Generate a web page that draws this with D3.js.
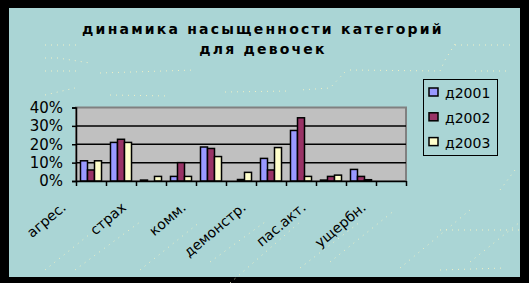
<!doctype html>
<html>
<head>
<meta charset="utf-8">
<script src="https://cdn.jsdelivr.net/npm/d3@7/dist/d3.min.js"></script>
<style>
  body { margin: 0; background: #000; }
  text { font-family: "DejaVu Sans", sans-serif; fill: #000; }
</style>
</head>
<body>
<svg id="chart" width="529" height="283"></svg>
<script>
// categories (only every other one is labelled on the axis)
var categories = ["агрес.", "", "страх", "", "комм.", "", "демонстр.", "", "пас.акт.", "", "ущербн."];
var seriesNames = ["д2001", "д2002", "д2003"];
var d2001 = [0.11, 0.21, 0.005, 0.025, 0.185, 0, 0.123, 0.275, 0.005, 0.063, 0];
var d2002 = [0.06, 0.227, 0, 0.10, 0.177, 0.008, 0.06, 0.344, 0.025, 0.025, 0];
var d2003 = [0.11, 0.21, 0.025, 0.025, 0.133, 0.047, 0.182, 0.025, 0.032, 0.007, 0];
var yTicks = [0, 0.1, 0.2, 0.3, 0.4];
var colors = ["#9999ff", "#993366", "#ffffcc"];

var svg = d3.select("#chart");

// black frame + teal background
svg.append("rect").attr("width", 529).attr("height", 283).attr("fill", "#000");
svg.append("rect").attr("x", 9).attr("y", 8).attr("width", 511).attr("height", 269).attr("fill", "#aad5d5");

// faint dotted texture
var dots = [
  [[45, 45], [80, 45]], [[455, 45], [515, 45]], [[45, 58], [58, 58], [90, 63]],
  [[45, 71], [80, 71]], [[100, 73], [195, 70]], [[350, 70], [440, 71]], [[475, 71], [510, 71]],
  [[455, 44], [445, 60], [440, 71]], [[345, 72], [330, 88], [300, 90]],
  [[225, 92], [290, 91]], [[110, 95], [170, 96]], [[45, 95], [75, 88]],
  [[45, 270], [95, 230]], [[75, 270], [140, 222]], [[140, 270], [200, 222]],
  [[210, 262], [265, 222]], [[230, 283], [300, 222]], [[300, 268], [360, 222]],
  [[330, 262], [395, 210]], [[400, 268], [470, 210]], [[470, 262], [520, 222]],
  [[440, 230], [520, 230]], [[500, 190], [515, 170]], [[440, 270], [505, 268]]
];
svg.append("g").selectAll("path").data(dots).enter().append("path")
  .attr("d", d3.line())
  .attr("fill", "none")
  .attr("stroke", "#f2f2c8")
  .attr("stroke-width", 1)
  .attr("stroke-dasharray", "1,5");

// title
var title = svg.append("text")
  .attr("text-anchor", "middle")
  .attr("font-weight", "bold")
  .attr("font-size", "14px")
  .attr("letter-spacing", "2.2px");
title.append("tspan").attr("x", 263).attr("y", 34).text("динамика насыщенности категорий");
title.append("tspan").attr("x", 263).attr("y", 54).text("для девочек");

// scales
var plotL = 76, plotR = 406, plotT = 107.5, plotB = 181;
var x = d3.scaleBand().domain(d3.range(categories.length)).range([plotL, plotR]).padding(0);
var x1 = d3.scaleBand().domain(seriesNames).range([0, x.bandwidth()]).paddingInner(0).paddingOuter(0.64);
var y = d3.scaleLinear().domain([0, 0.4]).range([plotB, plotT]);
var xb = d3.scaleLinear().domain([0, categories.length]).range([plotL, plotR]);

// plot area
svg.append("rect")
  .attr("x", plotL).attr("y", plotT)
  .attr("width", plotR - plotL).attr("height", plotB - plotT)
  .attr("fill", "#c0c0c0")
  .attr("stroke", "#808080")
  .attr("stroke-width", 2);

svg.append("g").selectAll("line").data(yTicks.slice(1, -1)).enter().append("line")
  .attr("x1", plotL).attr("x2", plotR)
  .attr("y1", function(d) { return y(d); })
  .attr("y2", function(d) { return y(d); })
  .attr("stroke", "#000")
  .attr("stroke-width", 1.5);

// bars
var series = [d2001, d2002, d2003];
var g = svg.append("g");
series.forEach(function(vals, si) {
  g.selectAll(".s" + si)
    .data(vals.map(function(v, i) { return { i: i, v: v }; }).filter(function(d) { return d.v > 0; }))
    .enter().append("rect")
    .attr("class", "s" + si)
    .attr("x", function(d) { return x(d.i) + x1(seriesNames[si]); })
    .attr("y", function(d) { return y(d.v); })
    .attr("width", x1.bandwidth())
    .attr("height", function(d) { return y(0) - y(d.v); })
    .attr("fill", colors[si])
    .attr("stroke", "#000")
    .attr("stroke-width", 1.5);
});

// axes
var yAxis = svg.append("g")
  .attr("transform", "translate(" + plotL + ",0)")
  .call(d3.axisLeft(y).tickValues(yTicks).tickFormat(d3.format(".0%")).tickSize(4).tickPadding(9));
yAxis.selectAll("text").attr("font-size", "15px").attr("font-family", "DejaVu Sans").attr("fill", "#000");
yAxis.selectAll("line, path").attr("stroke", "#000").attr("stroke-width", 1.5);

var xAxis = svg.append("g")
  .attr("transform", "translate(0," + plotB + ")")
  .call(d3.axisBottom(xb).tickValues(d3.range(categories.length + 1)).tickFormat("").tickSize(5).tickSizeOuter(0));
xAxis.selectAll("line, path").attr("stroke", "#000").attr("stroke-width", 1.5);

svg.append("g").selectAll("text").data(categories).enter().append("text")
  .attr("text-anchor", "end")
  .attr("font-size", "14px")
  .attr("transform", function(d, i) {
    return "translate(" + (x(i) + x.bandwidth() / 2 - 24) + "," + (plotB + 28) + ") rotate(-40)";
  })
  .text(function(d) { return d; });

// legend
var legend = svg.append("g");
legend.append("rect")
  .attr("x", 423.5).attr("y", 79.5).attr("width", 74).attr("height", 76)
  .attr("fill", "none").attr("stroke", "#000").attr("stroke-width", 1);
var items = legend.selectAll(".item").data(seriesNames).enter().append("g")
  .attr("transform", function(d, i) { return "translate(429," + (88 + i * 24.8) + ")"; });
items.append("rect")
  .attr("width", 9).attr("height", 8)
  .attr("fill", function(d, i) { return colors[i]; })
  .attr("stroke", "#000").attr("stroke-width", 1.5);
items.append("text")
  .attr("x", 16).attr("y", 10)
  .attr("font-size", "14px")
  .text(function(d) { return d; });
</script>
</body>
</html>
